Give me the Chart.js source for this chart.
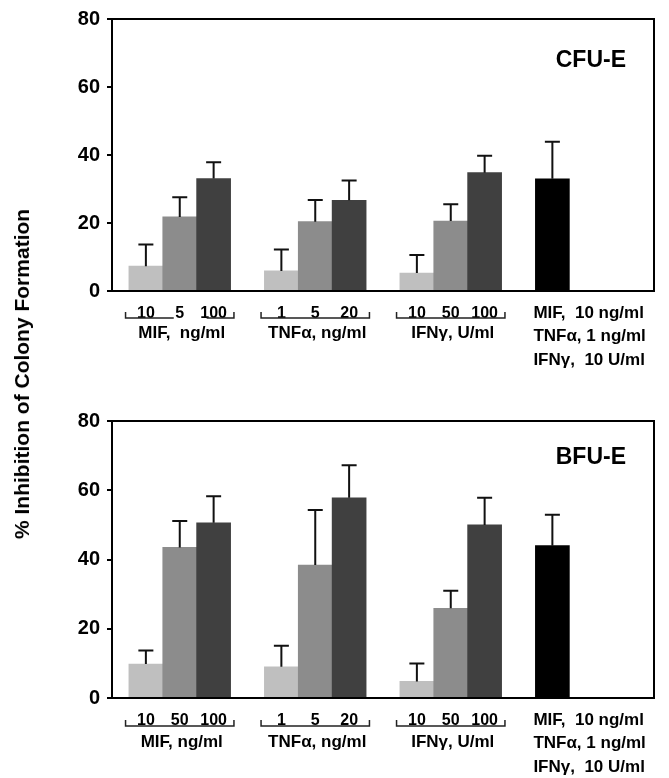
<!DOCTYPE html>
<html>
<head>
<meta charset="utf-8">
<script src="https://cdn.jsdelivr.net/npm/chart.js@4.4.1/dist/chart.umd.min.js"></script>
<style>
  body { margin: 0; background: #fff; width: 669px; height: 778px; position: relative; overflow: hidden;
         font-family: "Liberation Sans", Arial, sans-serif; }
  #cfuChart { position: absolute; left: 0; top: 0; }
  #bfuChart { position: absolute; left: 0; top: 378px; }
  #yTitle { position: absolute; left: 22px; top: 374px; transform: translate(-50%, -50%) rotate(-90deg);
            white-space: nowrap; font-weight: bold; font-size: 21px; color: #000; }
</style>
</head>
<body>
<canvas id="cfuChart" width="669" height="378"></canvas>
<canvas id="bfuChart" width="669" height="400"></canvas>
<div id="yTitle">% Inhibition of Colony Formation</div>
<script>
//  x slots: one per bar, empty strings are the gaps between treatment groups
const cfuDoses = ['', '10', '5', '100', '', '1', '5', '20', '', '10', '50', '100', '', '', '', '', ''];
const bfuDoses = ['', '10', '50', '100', '', '1', '5', '20', '', '10', '50', '100', '', '', '', '', ''];

//  % inhibition (mean) and upper error (SD) per slot
const cfuValues = [null, 7.3, 21.8, 33.1, null, 5.9, 20.4, 26.7, null, 5.3, 20.6, 34.8, null, 33.0, null, null, null];
const cfuErrors = [null, 6.4, 5.8, 4.8, null, 6.3, 6.4, 5.8, null, 5.3, 4.9, 5.0, null, 10.9, null, null, null];
const bfuValues = [null, 9.8, 43.5, 50.6, null, 9.0, 38.4, 57.8, null, 4.8, 25.9, 50.0, null, 44.0, null, null, null];
const bfuErrors = [null, 3.9, 7.6, 7.7, null, 6.1, 15.9, 9.4, null, 5.2, 5.1, 7.8, null, 8.9, null, null, null];

//  treatment groups: first and last slot, and the name written under the bracket
const groupSlots = [[1, 3], [5, 7], [9, 11]];
const cfuGroupNames = ['MIF,  ng/ml', 'TNF\u03b1, ng/ml', 'IFN\u03b3, U/ml'];
const bfuGroupNames = ['MIF, ng/ml', 'TNF\u03b1, ng/ml', 'IFN\u03b3, U/ml'];
const comboSlot = 13;
const comboLines = ['MIF,  10 ng/ml', 'TNF\u03b1, 1 ng/ml', 'IFN\u03b3,  10 U/ml'];

const yTicks = [0, 20, 40, 60, 80];

const doseShades = ['#bfbfbf', '#8c8c8c', '#404040'];
const comboShade = '#000000';
const boldFont = '"Liberation Sans", Arial, sans-serif';

//******************************************************************************
//  colour of each slot: light / mid / dark inside a group, black for the combo
//******************************************************************************
function slotColours(count) {
  let colours = [];
  for (let i = 0; i < count; i++) {
    let c = 'rgba(0,0,0,0)';
    for (let g of groupSlots) {
      if (i >= g[0] && i <= g[1]) c = doseShades[i - g[0]];
    }
    if (i === comboSlot) c = comboShade;
    colours.push(c);
  }
  return colours;
}

//******************************************************************************
//  Panel plugin: error whiskers, frame, brackets, group names, combo text, title
//******************************************************************************
const panelDecor = {
  id: 'panelDecor',
  afterDatasetsDraw(chart, args, opts) {
    const {ctx, chartArea: area, scales: {x, y}} = chart;
    const ds = chart.data.datasets[0];
    const meta = chart.getDatasetMeta(0);
    ctx.save();

    // upper error whiskers
    ctx.strokeStyle = '#111';
    ctx.lineWidth = 2;
    meta.data.forEach((bar, i) => {
      if (ds.data[i] == null) return;
      const top = y.getPixelForValue(ds.data[i] + ds.errors[i]);
      ctx.beginPath();
      ctx.moveTo(bar.x, bar.y);
      ctx.lineTo(bar.x, top);
      ctx.moveTo(bar.x - 7.5, top);
      ctx.lineTo(bar.x + 7.5, top);
      ctx.stroke();
    });

    // frame round the plot
    ctx.strokeStyle = '#000';
    ctx.lineWidth = 2;
    ctx.strokeRect(area.left, area.top, area.right - area.left, area.bottom - area.top);

    // brackets under each dose group
    const step = x.getPixelForValue(1) - x.getPixelForValue(0);
    const by = area.bottom + opts.bracketDrop;
    ctx.lineWidth = 1.5;
    ctx.strokeStyle = '#222';
    groupSlots.forEach((g, gi) => {
      const left = x.getPixelForValue(g[0]) - 0.6 * step;
      const right = x.getPixelForValue(g[1]) + 0.6 * step;
      ctx.beginPath();
      ctx.moveTo(left, by - 6);
      ctx.lineTo(left, by);
      if (opts.brokenFirst && gi === 0) {
        ctx.lineTo(x.getPixelForValue(g[0] + 1) - 6, by);
        ctx.moveTo(x.getPixelForValue(g[1]) - 7, by);
      }
      ctx.lineTo(right, by);
      ctx.lineTo(right, by - 6);
      ctx.stroke();

      ctx.fillStyle = '#000';
      ctx.font = 'bold 17px ' + boldFont;
      ctx.textAlign = 'center';
      ctx.textBaseline = 'middle';
      ctx.fillText(opts.groupNames[gi], (left + right) / 2 + 2, area.bottom + opts.nameDrop);
    });

    // combination label, left aligned under the black bar
    ctx.textAlign = 'left';
    ctx.font = 'bold 17px ' + boldFont;
    comboLines.forEach((line, li) => {
      ctx.fillText(line, x.getPixelForValue(comboSlot) - 19, area.bottom + 22 + li * 23.5);
    });

    // panel title
    ctx.textAlign = 'right';
    ctx.font = 'bold 23px ' + boldFont;
    ctx.fillText(opts.title, area.right - 28, area.top + opts.titleDrop);

    ctx.restore();
  }
};

//******************************************************************************
//  Build one panel chart
//******************************************************************************
function makePanel(canvasId, doses, values, errors, panel) {
  return new Chart(document.getElementById(canvasId), {
    type: 'bar',
    data: {
      labels: doses,
      datasets: [{
        data: values,
        errors: errors,
        backgroundColor: slotColours(doses.length),
        borderWidth: 0,
        barThickness: 34
      }]
    },
    options: {
      responsive: false,
      animation: false,
      layout: { padding: { top: panel.top, right: 15, left: 0, bottom: 0 } },
      plugins: {
        legend: { display: false },
        tooltip: { enabled: false },
        panelDecor: panel
      },
      scales: {
        x: {
          offset: false,
          grid: { display: false },
          border: { display: false },
          ticks: {
            autoSkip: false, maxRotation: 0, padding: 5, color: '#000',
            font: { family: boldFont, size: 16, weight: 'bold' }
          },
          afterFit(scale) { scale.height = panel.xHeight; }
        },
        y: {
          min: 0,
          max: 80,
          afterBuildTicks(scale) { scale.ticks = yTicks.map(v => ({ value: v })); },
          grid: { drawOnChartArea: false, color: '#000', lineWidth: 2, tickLength: 5 },
          border: { display: false },
          ticks: {
            padding: 7, color: '#000',
            font: { family: boldFont, size: 20, weight: 'bold' }
          },
          afterFit(scale) { scale.width = 112; }
        }
      }
    },
    plugins: [panelDecor]
  });
}

makePanel('cfuChart', cfuDoses, cfuValues, cfuErrors, {
  title: 'CFU-E', titleDrop: 42, top: 13, xHeight: 87,
  bracketDrop: 27, nameDrop: 42, groupNames: cfuGroupNames, brokenFirst: true
});

makePanel('bfuChart', bfuDoses, bfuValues, bfuErrors, {
  title: 'BFU-E', titleDrop: 37, top: 43, xHeight: 80,
  bracketDrop: 28, nameDrop: 44, groupNames: bfuGroupNames, brokenFirst: false
});
</script>
</body>
</html>
